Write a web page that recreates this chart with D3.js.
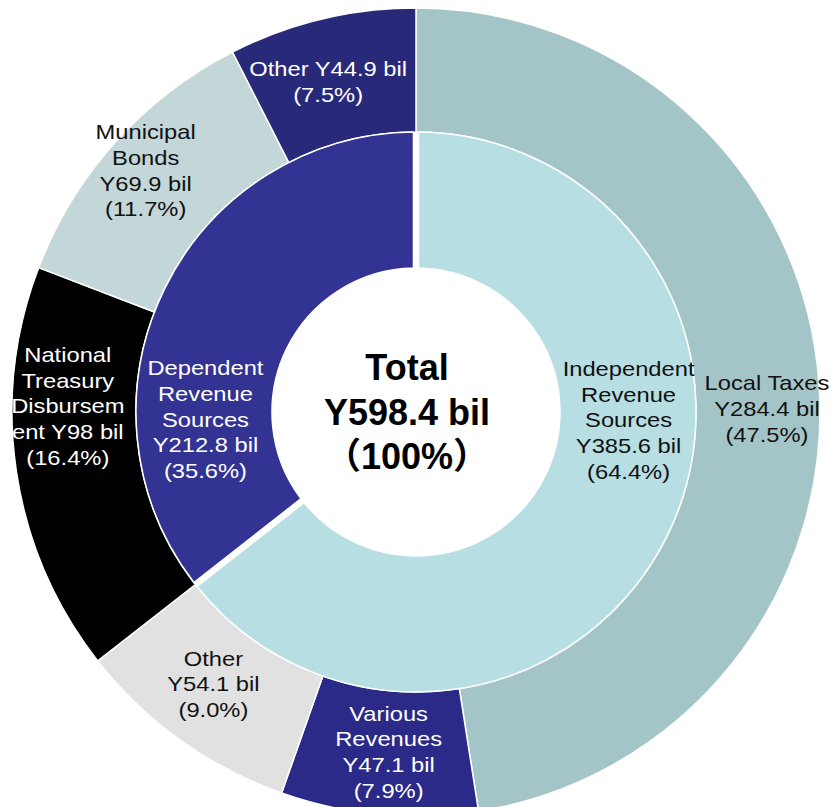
<!DOCTYPE html>
<html>
<head>
<meta charset="utf-8">
<script src="https://cdn.jsdelivr.net/npm/d3@7"></script>
<style>
body { margin: 0; background: #fff; }
svg { display: block; }
</style>
</head>
<body>
<div id="chart"></div>
<script>
// inner ring: revenue source type
const innerNames = ["Independent Revenue Sources", "Dependent Revenue Sources"];
const innerValues = [385.6, 212.8];
const innerLabels = [
    ["Independent", "Revenue", "Sources", "Y385.6 bil", "(64.4%)"],
    ["Dependent", "Revenue", "Sources", "Y212.8 bil", "(35.6%)"]
];

// outer ring: breakdown
const outerNames = ["Local Taxes", "Various Revenues", "Other", "National Treasury Disbursement", "Municipal Bonds", "Other"];
const outerValues = [284.4, 47.1, 54.1, 98, 69.9, 44.9];
const outerLabels = [
    ["Local Taxes", "Y284.4 bil", "(47.5%)"],
    ["Various", "Revenues", "Y47.1 bil", "(7.9%)"],
    ["Other", "Y54.1 bil", "(9.0%)"],
    ["National", "Treasury", "Disbursem", "ent Y98 bil", "(16.4%)"],
    ["Municipal", "Bonds", "Y69.9 bil", "(11.7%)"],
    ["Other Y44.9 bil", "(7.5%)"]
];

const totalLabel = ["Total", "Y598.4 bil", "（100%）"];

// styling
const innerColors = ["#b7dee2", "#333393"];
const outerColors = ["#a4c5c8", "#2c2a88", "#e1e1e1", "#000000", "#c3d6d8", "#29297a"];
const innerText = ["#111", "#fff"];
const outerText = ["#111", "#fff", "#111", "#fff", "#111", "#fff"];
// label nudges from arc centroid (px)
const innerNudge = [[22, -85], [-20, 100]];
const outerNudge = [[10, 23], [4, -1], [-3, -6], [-10, -57], [-16, -13], [-8, 2]];

const width = 834, height = 807;
const cx = 416, cy = 412;
const r0 = 144, r1 = 280, r2 = 404;

const svg = d3.select("#chart").append("svg")
    .attr("width", width)
    .attr("height", height);

const g = svg.append("g").attr("transform", `translate(${cx},${cy})`);

const pie = d3.pie().sort(null).value(d => d);

const innerArc = d3.arc().innerRadius(r0).outerRadius(r1).padAngle(0.016);
const outerArc = d3.arc().innerRadius(r1).outerRadius(r2);

const innerData = pie(innerValues);
const outerData = pie(outerValues);

g.selectAll("path.outer")
    .data(outerData)
    .enter()
    .append("path")
    .attr("class", "outer")
    .attr("d", outerArc)
    .attr("fill", (d, i) => outerColors[i])
    .attr("stroke", "#fff")
    .attr("stroke-width", 1.5);

g.selectAll("path.inner")
    .data(innerData)
    .enter()
    .append("path")
    .attr("class", "inner")
    .attr("d", innerArc)
    .attr("fill", (d, i) => innerColors[i])
    .attr("stroke", "#fff")
    .attr("stroke-width", 1.5);

const fs = 21, pitch = 25.7;

function drawLabel(lines, pos, color) {
    const lg = g.append("g")
        .attr("transform", `translate(${pos[0]},${pos[1]}) scale(1.13,1)`);
    const t = lg.append("text")
        .attr("text-anchor", "middle")
        .style("font-family", "'Liberation Sans', Arial, sans-serif")
        .style("font-size", fs + "px")
        .attr("fill", color);
    lines.forEach((s, i) => {
        t.append("tspan")
            .attr("x", 0)
            .attr("y", (i - (lines.length - 1) / 2) * pitch + 7.5)
            .text(s);
    });
}

innerData.forEach((d, i) => {
    const c = innerArc.centroid(d);
    drawLabel(innerLabels[i], [c[0] + innerNudge[i][0], c[1] + innerNudge[i][1]], innerText[i]);
});

outerData.forEach((d, i) => {
    const c = outerArc.centroid(d);
    drawLabel(outerLabels[i], [c[0] + outerNudge[i][0], c[1] + outerNudge[i][1]], outerText[i]);
});

// center total
const tt = g.append("text")
    .attr("text-anchor", "middle")
    .style("font-family", "'Liberation Sans', Arial, 'Noto Sans CJK JP', sans-serif")
    .style("font-size", "36px")
    .style("font-weight", "bold")
    .attr("fill", "#000");
totalLabel.forEach((s, i) => {
    tt.append("tspan")
        .attr("x", -9)
        .attr("y", (i - 1) * 44.5 + 12.5)
        .text(s);
});
</script>
</body>
</html>
